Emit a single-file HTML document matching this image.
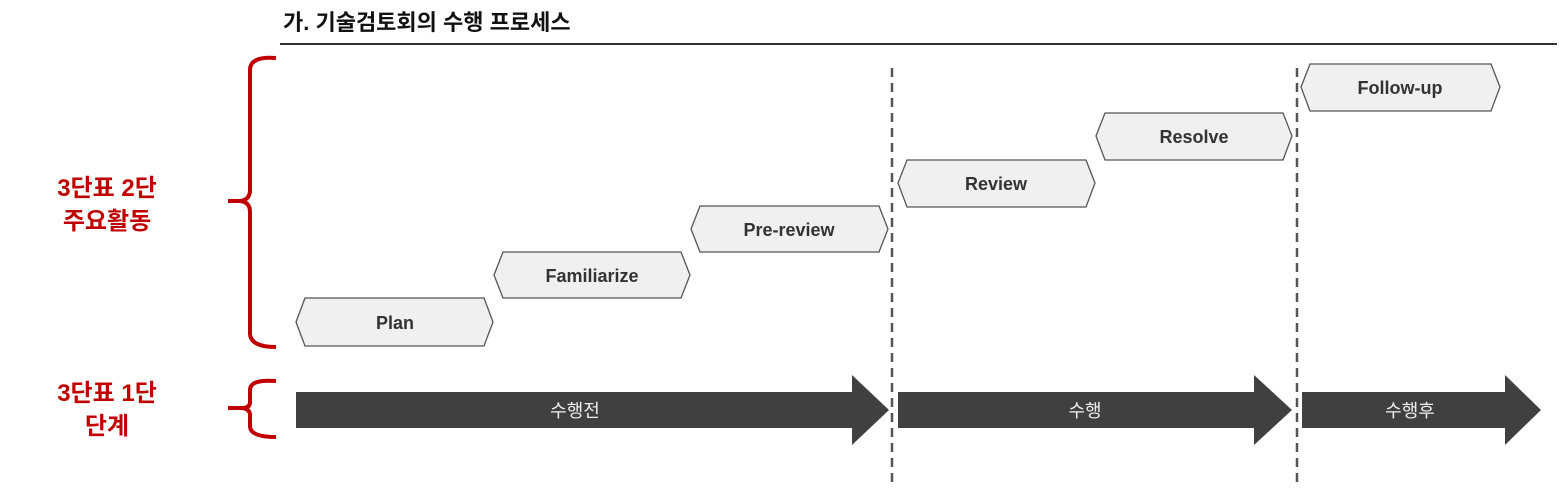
<!DOCTYPE html>
<html><head><meta charset="utf-8"><style>
body{margin:0;width:1562px;height:489px;background:#fff;overflow:hidden;font-family:"Liberation Sans","Noto Sans CJK KR",sans-serif}
</style></head><body>
<svg width="1562" height="489" xmlns="http://www.w3.org/2000/svg" style="position:absolute;left:0;top:0">
<text x="283" y="30" font-size="22" font-weight="bold" fill="#111" font-family="Liberation Sans, Noto Sans CJK KR, sans-serif">가.  기술검토회의 수행 프로세스</text>
<line x1="280" y1="44" x2="1557" y2="44" stroke="#333" stroke-width="2"/>
<g stroke="#555" stroke-width="2.5" stroke-dasharray="9,6">
<line x1="892" y1="68" x2="892" y2="482"/>
<line x1="1297" y1="68" x2="1297" y2="482"/>
</g>
<g fill="#404040">
<polygon points="296,392 852,392 852,375 889,410 852,445 852,428 296,428"/>
<polygon points="898,392 1254,392 1254,375 1292,410 1254,445 1254,428 898,428"/>
<polygon points="1302,392 1505,392 1505,375 1541,410 1505,445 1505,428 1302,428"/>
</g>
<g fill="#eee" font-size="18" text-anchor="middle" font-family="Liberation Sans, Noto Sans CJK KR, sans-serif">
<text x="575" y="417">수행전</text><text x="1085" y="417">수행</text><text x="1410" y="417">수행후</text>
</g>
<g fill="#f0f0f0" stroke="#555" stroke-width="1.3">
<polygon points="305,298 484,298 493,322 484,346 305,346 296,322"/>
<polygon points="503,252 681,252 690,275 681,298 503,298 494,275"/>
<polygon points="700,206 879,206 888,229 879,252 700,252 691,229"/>
<polygon points="907,160 1086,160 1095,183 1086,207 907,207 898,183"/>
<polygon points="1105,113 1283,113 1292,136 1283,160 1105,160 1096,136"/>
<polygon points="1310,64 1491,64 1500,87 1491,111 1310,111 1301,87"/>
</g>
<g fill="#333" font-size="18" font-weight="bold" text-anchor="middle" font-family="Liberation Sans, sans-serif">
<text x="395" y="329">Plan</text>
<text x="592" y="282">Familiarize</text>
<text x="789" y="236">Pre-review</text>
<text x="996" y="190">Review</text>
<text x="1194" y="143">Resolve</text>
<text x="1400" y="94">Follow-up</text>
</g>
<g fill="none" stroke="#c00000" stroke-width="4">
<path d="M276,58 Q250,56 250,70 L250,190 Q250,200 240,201 L228,201 M240,201 Q250,202 250,212 L250,333 Q250,347 276,347"/>
<path d="M276,381 Q250,379 250,390 L250,402 Q250,408 242,408 L228,408 M242,408 Q250,409 250,415 L250,426 Q250,437 276,437"/>
</g>
<g fill="#c00000" font-size="24" font-weight="bold" text-anchor="middle" font-family="Liberation Sans, Noto Sans CJK KR, sans-serif">
<text x="107" y="196">3단표 2단</text><text x="107" y="229">주요활동</text>
<text x="107" y="401">3단표 1단</text><text x="107" y="434">단계</text>
</g>
</svg>
</body></html>
